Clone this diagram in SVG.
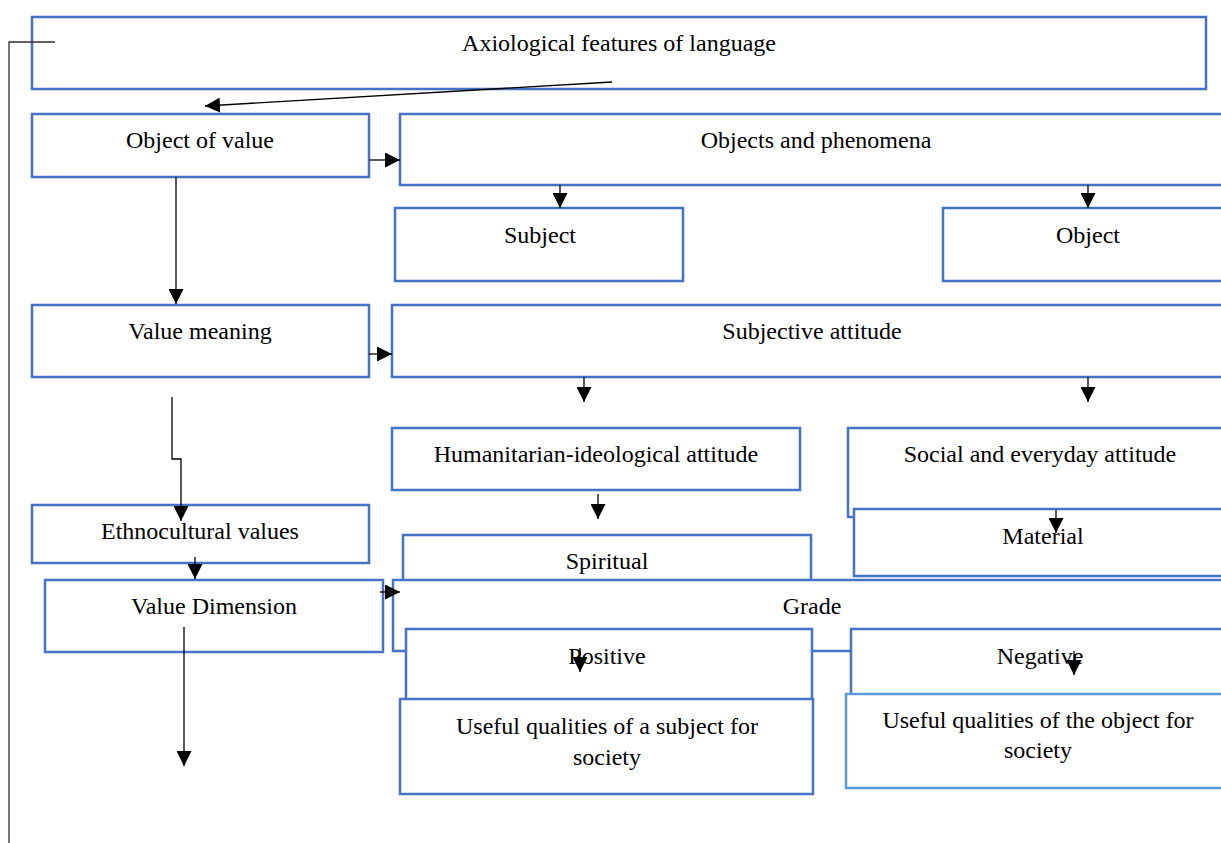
<svg xmlns="http://www.w3.org/2000/svg" width="1221" height="843" viewBox="0 0 1221 843">
<style>
.b{fill:#fff;stroke:#4472C4;stroke-width:2.5}
.b2{fill:#fff;stroke:#5B9BD5;stroke-width:2.5}
.t{font-family:"Liberation Serif","Times New Roman",serif;font-size:24px;fill:#000;text-anchor:middle}
.c{fill:none;stroke:#000;stroke-width:1.3}
</style>
<defs>
<marker id="ah" markerUnits="userSpaceOnUse" markerWidth="15" markerHeight="15" refX="15" refY="7.5" orient="auto">
<path d="M0,0 L15,7.5 L0,15 z" fill="#000"/>
</marker>
</defs>
<rect width="1221" height="843" fill="#fff"/>
<g id="n-axio"><rect class="b" x="32" y="17" width="1174" height="72"/><text class="t" x="619" y="51">Axiological features of language</text></g>
<g id="n-objval"><rect class="b" x="32" y="114" width="337" height="63"/><text class="t" x="200" y="148">Object of value</text></g>
<g id="n-objphen"><rect class="b" x="400" y="114" width="830" height="71"/><text class="t" x="816" y="148">Objects and phenomena</text></g>
<g id="n-subject"><rect class="b" x="395" y="208" width="288" height="73"/><text class="t" x="540" y="243">Subject</text></g>
<g id="n-object"><rect class="b" x="943" y="208" width="290" height="73"/><text class="t" x="1088" y="243">Object</text></g>
<g id="n-valmean"><rect class="b" x="32" y="305" width="337" height="72"/><text class="t" x="200" y="339">Value meaning</text></g>
<g id="n-subjatt"><rect class="b" x="392" y="305" width="840" height="72"/><text class="t" x="812" y="339">Subjective attitude</text></g>
<g id="n-human"><rect class="b" x="392" y="428" width="408" height="62"/><text class="t" x="596" y="462">Humanitarian-ideological attitude</text></g>
<g id="n-social"><rect class="b" x="848" y="428" width="385" height="89"/><text class="t" x="1040" y="462">Social and everyday attitude</text></g>
<g id="n-material"><rect class="b" x="854" y="509" width="380" height="67"/><text class="t" x="1043" y="544">Material</text></g>
<g id="n-ethno"><rect class="b" x="32" y="505" width="337" height="58"/><text class="t" x="200" y="539">Ethnocultural values</text></g>
<g id="n-spiritual"><rect class="b" x="403" y="535" width="408" height="80"/><text class="t" x="607" y="569">Spiritual</text></g>
<g id="n-valdim"><rect class="b" x="45" y="580" width="338" height="72"/><text class="t" x="214" y="614">Value Dimension</text></g>
<g id="n-grade"><rect class="b" x="393" y="580" width="840" height="71"/><text class="t" x="812" y="614">Grade</text></g>
<g id="n-positive"><rect class="b" x="406" y="629" width="406" height="75"/><text class="t" x="607" y="664">Positive</text></g>
<g id="n-negative"><rect class="b" x="851" y="629" width="382" height="70"/><text class="t" x="1040" y="664">Negative</text></g>
<g id="n-usesubj"><rect class="b" x="400" y="699" width="413" height="95"/><text class="t" x="607" y="734">Useful qualities of a subject for</text><text class="t" x="607" y="765">society</text></g>
<g id="n-useobj"><rect class="b2" x="846" y="694" width="387" height="94"/><text class="t" x="1038" y="728">Useful qualities of the object for</text><text class="t" x="1038" y="758">society</text></g>
<g id="connectors">
<path class="c" style="stroke:#303030" d="M55,42 H9 V843"/>
<path class="c" marker-end="url(#ah)" d="M612,82 L205,106"/>
<path class="c" marker-end="url(#ah)" d="M369,160 H400"/>
<path class="c" marker-end="url(#ah)" d="M560,185 V208"/>
<path class="c" marker-end="url(#ah)" d="M1088,185 V208"/>
<path class="c" marker-end="url(#ah)" d="M176,177 V304"/>
<path class="c" marker-end="url(#ah)" d="M369,354 H392"/>
<path class="c" marker-end="url(#ah)" d="M584,377 V402"/>
<path class="c" marker-end="url(#ah)" d="M1088,377 V402"/>
<path class="c" marker-end="url(#ah)" d="M172,397 V459 H181 V521"/>
<path class="c" marker-end="url(#ah)" d="M598,494 V519"/>
<path class="c" marker-end="url(#ah)" d="M1056,510 V533"/>
<path class="c" marker-end="url(#ah)" d="M195,557 V579"/>
<path class="c" marker-end="url(#ah)" d="M380,592 H400"/>
<path class="c" marker-end="url(#ah)" d="M184,627 V766"/>
<path class="c" marker-end="url(#ah)" d="M580,648 V672"/>
<path class="c" marker-end="url(#ah)" d="M1074,651 V675"/>
</g>
</svg>
